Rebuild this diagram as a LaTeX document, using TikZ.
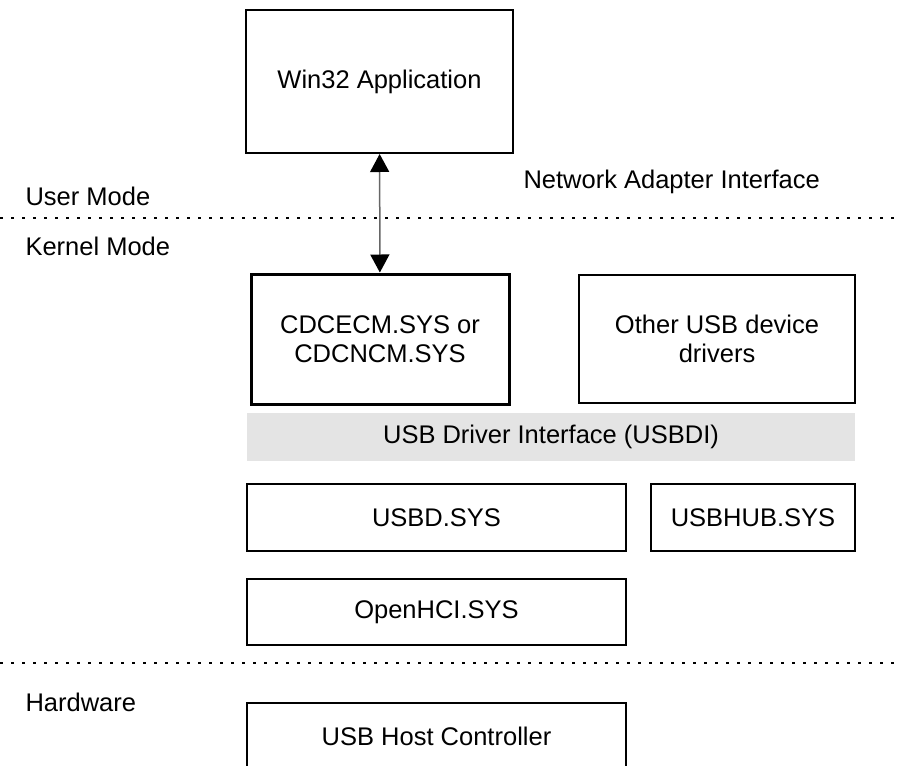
\documentclass[tikz,border=0pt]{standalone}
\usepackage{fontspec}
\setmainfont{Liberation Sans}
\usetikzlibrary{arrows.meta}
\definecolor{usbdigray}{RGB}{228,228,228}
\begin{document}
\begin{tikzpicture}[x=1pt, y=-1pt, >={Triangle[width=19pt,length=18pt,color=black,fill=black]},
  font=\fontsize{25.5}{29}\selectfont,
  layer/.style={draw, line width=1.2pt, align=center, inner sep=0pt},
  thickbox/.style={layer, line width=2pt},
  boldbox/.style={layer, line width=3pt},
  modeline/.style={line width=2pt, dash pattern=on 2.5pt off 8.5pt}]
  \useasboundingbox (0,0) rectangle (901,765);
  \clip (0,0) rectangle (901,765);
  % mode borders
  \draw[modeline] (0,218) -- (901,218);
  \draw[modeline] (0,663) -- (901,663);
  \node[anchor=west] (user) at (22,196) {User Mode};
  \node[anchor=west] (kernel) at (22,246) {Kernel Mode};
  \node[anchor=west] (hw) at (22,702) {Hardware};
  \node[anchor=west] (nai) at (520,182) {Network Adapter Interface};
  % driver stack
  \node[thickbox, minimum width=267, minimum height=143] (app) at (379.5,81.5) {Win32 Application};
  \node[boldbox, minimum width=258, minimum height=130] (cdc) at (380,339) {CDCECM.SYS or\\CDCNCM.SYS};
  \node[layer, minimum width=276, minimum height=128] (other) at (717,339) {Other USB device\\drivers};
  \node[fill=usbdigray, minimum width=608, minimum height=48, inner sep=0pt] (usbdi) at (551,437) {USB Driver Interface (USBDI)};
  \node[layer, minimum width=379, minimum height=67] (usbd) at (436.5,517.5) {USBD.SYS};
  \node[layer, minimum width=204, minimum height=67] (usbhub) at (753,517.5) {USBHUB.SYS};
  \node[layer, minimum width=379, minimum height=66] (ohci) at (436.5,612) {OpenHCI.SYS};
  \node[thickbox, minimum width=379, minimum height=66] (host) at (436.5,736) {USB Host Controller};
  \draw[<->, draw=gray!80!black, line width=1.5pt] (app) -- (cdc);
\end{tikzpicture}
\end{document}
